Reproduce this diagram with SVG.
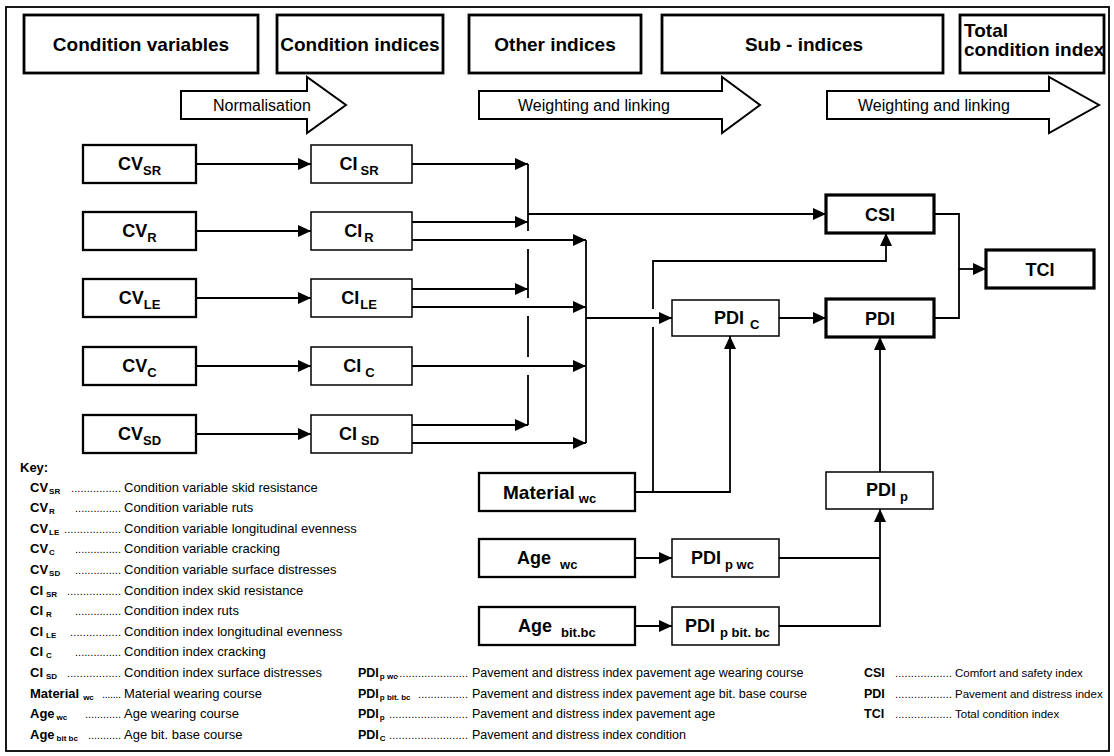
<svg xmlns="http://www.w3.org/2000/svg" width="1114" height="756" viewBox="0 0 1114 756">
<defs>
<marker id="ah" markerWidth="13" markerHeight="12" refX="13" refY="6" orient="auto" markerUnits="userSpaceOnUse"><path d="M0,0 L13,6 L0,12 Z" fill="#000"/></marker>
<style>
text{font-family:"Liberation Sans",Arial,Helvetica,sans-serif;fill:#000}
.hd{font-size:19px;font-weight:bold}
.hb{fill:#fff;stroke:#000;stroke-width:2.8}
.ba{fill:#fff;stroke:#000;stroke-width:2}
.at{font-size:16px}
.n1{fill:#fff;stroke:#000;stroke-width:1.5}
.n2{fill:#fff;stroke:#000;stroke-width:2.3}
.n3{fill:#fff;stroke:#000;stroke-width:3.2}
.nl{font-size:18px;font-weight:bold}
.ns{font-size:13px}
.c{fill:none;stroke:#000;stroke-width:1.8}
.ca{fill:none;stroke:#000;stroke-width:1.8;marker-end:url(#ah)}
.kl{font-size:13px;font-weight:bold}
.ks{font-size:8px;font-weight:bold}
.kd{font-size:13px}
.kt{font-size:12.5px}
.kr{font-size:11.5px}
.kl2{font-size:12.5px;font-weight:bold}
.dt{font-size:11px}
</style>
</defs>
<rect width="1114" height="756" fill="#fff"/>
<rect x="6" y="7" width="1103" height="744" fill="none" stroke="#000" stroke-width="1.8"/>

<g id="headers">
<rect class="hb" x="24" y="15" width="234" height="58"/>
<text class="hd" x="141" y="51" text-anchor="middle">Condition variables</text>
<rect class="hb" x="277" y="15" width="166" height="58"/>
<text class="hd" x="360" y="51" text-anchor="middle">Condition indices</text>
<rect class="hb" x="469" y="15" width="172" height="58"/>
<text class="hd" x="555" y="51" text-anchor="middle">Other indices</text>
<rect class="hb" x="662" y="15" width="281" height="58"/>
<text class="hd" x="804" y="51" text-anchor="middle">Sub - indices</text>
<rect class="hb" x="960" y="15" width="144" height="58"/>
<text class="hd" x="964" y="36.5">Total</text>
<text class="hd" x="964" y="56">condition index</text>
</g>

<g id="block-arrows">
<path class="ba" d="M181,91 H307 V77 L346,105 L307,133 V119 H181 Z"/>
<text class="at" x="213" y="110.5">Normalisation</text>
<path class="ba" d="M479,91 H722 V77 L760,105 L722,133 V119 H479 Z"/>
<text class="at" x="518" y="110.5">Weighting and linking</text>
<path class="ba" d="M827,91 H1049 V77 L1099,105 L1049,133 V119 H827 Z"/>
<text class="at" x="858" y="110.5">Weighting and linking</text>
</g>

<g id="connectors">
<line class="ca" x1="196" y1="164" x2="311" y2="164"/>
<line class="ca" x1="196" y1="231" x2="311" y2="231"/>
<line class="ca" x1="196" y1="298" x2="311" y2="298"/>
<line class="ca" x1="196" y1="366" x2="311" y2="366"/>
<line class="ca" x1="196" y1="434" x2="311" y2="434"/>
<line class="ca" x1="412" y1="164" x2="528" y2="164"/>
<line class="ca" x1="412" y1="222" x2="528" y2="222"/>
<line class="ca" x1="412" y1="240" x2="586" y2="240"/>
<line class="ca" x1="412" y1="289" x2="528" y2="289"/>
<line class="ca" x1="412" y1="307" x2="586" y2="307"/>
<line class="ca" x1="412" y1="366" x2="586" y2="366"/>
<line class="ca" x1="412" y1="425" x2="528" y2="425"/>
<line class="ca" x1="412" y1="443" x2="586" y2="443"/>
<path class="c" d="M528,164 V231 M528,249 V298 M528,316 V357 M528,375 V425"/>
<line class="c" x1="586" y1="240" x2="586" y2="443"/>
<line class="ca" x1="528" y1="214" x2="826" y2="214"/>
<line class="ca" x1="586" y1="318" x2="672" y2="318"/>
<path class="ca" d="M635,492 H730 V336"/>
<line class="c" x1="653" y1="492" x2="653" y2="327"/>
<path class="ca" d="M653,309 V261 H886 V233"/>
<line class="ca" x1="779" y1="318" x2="826" y2="318"/>
<path class="c" d="M934,214 H959 V318 H934"/>
<line class="ca" x1="959" y1="269" x2="986" y2="269"/>
<line class="ca" x1="880" y1="472" x2="880" y2="337"/>
<line class="c" x1="779" y1="558" x2="880" y2="558"/>
<path class="ca" d="M779,626 H880 V509"/>
<line class="ca" x1="635" y1="558" x2="672" y2="558"/>
<line class="ca" x1="635" y1="626" x2="672" y2="626"/>
</g>

<g id="cv-sr"><rect class="n2" x="83" y="145" width="113" height="38"/><text class="nl" x="139.5" y="170" text-anchor="middle">CV<tspan class="ns" dy="4.5">SR</tspan></text></g>
<g id="cv-r"><rect class="n2" x="83" y="212" width="113" height="38"/><text class="nl" x="139.5" y="237" text-anchor="middle">CV<tspan class="ns" dy="4.5">R</tspan></text></g>
<g id="cv-le"><rect class="n2" x="83" y="279" width="113" height="38"/><text class="nl" x="139.5" y="304" text-anchor="middle">CV<tspan class="ns" dy="4.5">LE</tspan></text></g>
<g id="cv-c"><rect class="n2" x="83" y="347" width="113" height="38"/><text class="nl" x="139.5" y="372" text-anchor="middle">CV<tspan class="ns" dy="4.5">C</tspan></text></g>
<g id="cv-sd"><rect class="n2" x="83" y="415" width="113" height="38"/><text class="nl" x="139.5" y="440" text-anchor="middle">CV<tspan class="ns" dy="4.5">SD</tspan></text></g>

<g id="ci-sr"><rect class="n1" x="311" y="145" width="101" height="38"/><text class="nl" x="359" y="170" text-anchor="middle">CI<tspan class="ns" dx="3" dy="4.5">SR</tspan></text></g>
<g id="ci-r"><rect class="n1" x="311" y="212" width="101" height="38"/><text class="nl" x="359" y="237" text-anchor="middle">CI<tspan class="ns" dx="2" dy="4.5">R</tspan></text></g>
<g id="ci-le"><rect class="n1" x="311" y="279" width="101" height="38"/><text class="nl" x="359" y="304" text-anchor="middle">CI<tspan class="ns" dx="1" dy="4.5">LE</tspan></text></g>
<g id="ci-c"><rect class="n1" x="311" y="347" width="101" height="38"/><text class="nl" x="359" y="372" text-anchor="middle">CI<tspan class="ns" dx="4" dy="4.5">C</tspan></text></g>
<g id="ci-sd"><rect class="n1" x="311" y="415" width="101" height="38"/><text class="nl" x="359" y="440" text-anchor="middle">CI<tspan class="ns" dx="4" dy="4.5">SD</tspan></text></g>

<g id="csi"><rect class="n3" x="826" y="195" width="108" height="38"/><text class="nl" x="880" y="220.5" text-anchor="middle">CSI</text></g>
<g id="pdi"><rect class="n3" x="826" y="299" width="108" height="38"/><text class="nl" x="880" y="324.5" text-anchor="middle">PDI</text></g>
<g id="tci"><rect class="n3" x="986" y="250" width="108" height="38"/><text class="nl" x="1040" y="275.5" text-anchor="middle">TCI</text></g>
<g id="pdi-c"><rect class="n1" x="672" y="300" width="107" height="36"/><text class="nl" x="714" y="324"><tspan>PDI</tspan><tspan class="ns" dx="6" dy="5">C</tspan></text></g>
<g id="material-wc"><rect class="n2" x="479" y="473" width="156" height="38"/><text class="nl" x="503" y="498.5" style="font-size:19px">Material<tspan class="ns" dx="4" dy="4">wc</tspan></text></g>
<g id="pdi-p"><rect class="n1" x="826" y="472" width="107" height="37"/><text class="nl" x="866" y="496">PDI<tspan class="ns" dx="4" dy="5">p</tspan></text></g>
<g id="age-wc"><rect class="n2" x="479" y="539" width="156" height="38"/><text class="nl" x="517" y="564">Age<tspan class="ns" dx="9" dy="5">wc</tspan></text></g>
<g id="pdi-p-wc"><rect class="n1" x="672" y="539" width="107" height="38"/><text class="nl" x="691" y="564">PDI<tspan class="ns" dx="4" dy="5">p wc</tspan></text></g>
<g id="age-bitbc"><rect class="n2" x="479" y="607" width="156" height="38"/><text class="nl" x="518" y="632">Age<tspan class="ns" dx="9" dy="5">bit.bc</tspan></text></g>
<g id="pdi-p-bitbc"><rect class="n1" x="672" y="607" width="107" height="38"/><text class="nl" x="685" y="632">PDI<tspan class="ns" dx="5" dy="5">p bit. bc</tspan></text></g>

<g id="key-left">
<text class="kl" x="20" y="472">Key:</text>
<text class="kl" x="30" y="491.5">CV<tspan class="ks" dx="1" dy="2">SR</tspan></text>
<text class="dt" x="71" y="491.5" textLength="50" lengthAdjust="spacing">................</text>
<text class="kd" x="124" y="491.5">Condition variable skid resistance</text>
<text class="kl" x="30" y="512.1">CV<tspan class="ks" dx="1" dy="2">R</tspan></text>
<text class="dt" x="75" y="512.1" textLength="46" lengthAdjust="spacing">...............</text>
<text class="kd" x="124" y="512.1">Condition variable ruts</text>
<text class="kl" x="30" y="532.7">CV<tspan class="ks" dx="1" dy="2">LE</tspan></text>
<text class="dt" x="64" y="532.7" textLength="57" lengthAdjust="spacing">..................</text>
<text class="kd" x="124" y="532.7">Condition variable longitudinal evenness</text>
<text class="kl" x="30" y="553.3">CV<tspan class="ks" dx="1" dy="2">C</tspan></text>
<text class="dt" x="75" y="553.3" textLength="46" lengthAdjust="spacing">...............</text>
<text class="kd" x="124" y="553.3">Condition variable cracking</text>
<text class="kl" x="30" y="573.9">CV<tspan class="ks" dx="1" dy="2">SD</tspan></text>
<text class="dt" x="75" y="573.9" textLength="46" lengthAdjust="spacing">...............</text>
<text class="kd" x="124" y="573.9">Condition variable surface distresses</text>
<text class="kl" x="30" y="594.5">CI<tspan class="ks" dx="3" dy="2">SR</tspan></text>
<text class="dt" x="67" y="594.5" textLength="54" lengthAdjust="spacing">.................</text>
<text class="kd" x="124" y="594.5">Condition index skid resistance</text>
<text class="kl" x="30" y="615.1">CI<tspan class="ks" dx="3" dy="2">R</tspan></text>
<text class="dt" x="75" y="615.1" textLength="46" lengthAdjust="spacing">...............</text>
<text class="kd" x="124" y="615.1">Condition index ruts</text>
<text class="kl" x="30" y="635.7">CI<tspan class="ks" dx="3" dy="2">LE</tspan></text>
<text class="dt" x="70" y="635.7" textLength="51" lengthAdjust="spacing">................</text>
<text class="kd" x="124" y="635.7">Condition index longitudinal evenness</text>
<text class="kl" x="30" y="656.3">CI<tspan class="ks" dx="3" dy="2">C</tspan></text>
<text class="dt" x="75" y="656.3" textLength="46" lengthAdjust="spacing">...............</text>
<text class="kd" x="124" y="656.3">Condition index cracking</text>
<text class="kl" x="30" y="676.9">CI<tspan class="ks" dx="3" dy="2">SD</tspan></text>
<text class="dt" x="67" y="676.9" textLength="54" lengthAdjust="spacing">.................</text>
<text class="kd" x="124" y="676.9">Condition index surface distresses</text>
<text class="kl" x="30" y="697.5">Material<tspan class="ks" dx="4" dy="2">wc</tspan></text>
<text class="dt" x="102" y="697.5" textLength="19" lengthAdjust="spacing">.......</text>
<text class="kd" x="124" y="697.5">Material wearing course</text>
<text class="kl" x="30" y="718.1">Age<tspan class="ks" dx="2" dy="2">wc</tspan></text>
<text class="dt" x="85" y="718.1" textLength="36" lengthAdjust="spacing">............</text>
<text class="kd" x="124" y="718.1">Age wearing course</text>
<text class="kl" x="30" y="738.7">Age<tspan class="ks" dx="2" dy="2">bit bc</tspan></text>
<text class="dt" x="88" y="738.7" textLength="33" lengthAdjust="spacing">...........</text>
<text class="kd" x="124" y="738.7">Age bit. base course</text>
</g>

<g id="key-middle">
<text class="kl2" x="358" y="676.9">PDI<tspan class="ks" dx="1" dy="2">p wc</tspan></text>
<text class="dt" x="396" y="676.9" textLength="72" lengthAdjust="spacing">.......................</text>
<text class="kt" x="472" y="676.9">Pavement and distress index pavement age wearing course</text>
<text class="kl2" x="358" y="697.5">PDI<tspan class="ks" dx="1" dy="2">p bit. bc</tspan></text>
<text class="dt" x="418" y="697.5" textLength="50" lengthAdjust="spacing">................</text>
<text class="kt" x="472" y="697.5">Pavement and distress index pavement age bit. base course</text>
<text class="kl2" x="358" y="718.1">PDI<tspan class="ks" dx="1" dy="2">p</tspan></text>
<text class="dt" x="389" y="718.1" textLength="79" lengthAdjust="spacing">.........................</text>
<text class="kt" x="472" y="718.1">Pavement and distress index pavement age</text>
<text class="kl2" x="358" y="738.7">PDI<tspan class="ks" dx="1" dy="2">C</tspan></text>
<text class="dt" x="389" y="738.7" textLength="79" lengthAdjust="spacing">.........................</text>
<text class="kt" x="472" y="738.7">Pavement and distress index condition</text>
</g>

<g id="key-right">
<text class="kl2" x="864" y="676.9">CSI</text>
<text class="dt" x="895" y="676.9" textLength="57" lengthAdjust="spacing">..................</text>
<text class="kr" x="955" y="676.9">Comfort and safety index</text>
<text class="kl2" x="864" y="697.5">PDI</text>
<text class="dt" x="895" y="697.5" textLength="57" lengthAdjust="spacing">..................</text>
<text class="kr" x="955" y="697.5">Pavement and distress index</text>
<text class="kl2" x="864" y="718.1">TCI</text>
<text class="dt" x="895" y="718.1" textLength="57" lengthAdjust="spacing">..................</text>
<text class="kr" x="955" y="718.1">Total condition index</text>
</g>
</svg>
